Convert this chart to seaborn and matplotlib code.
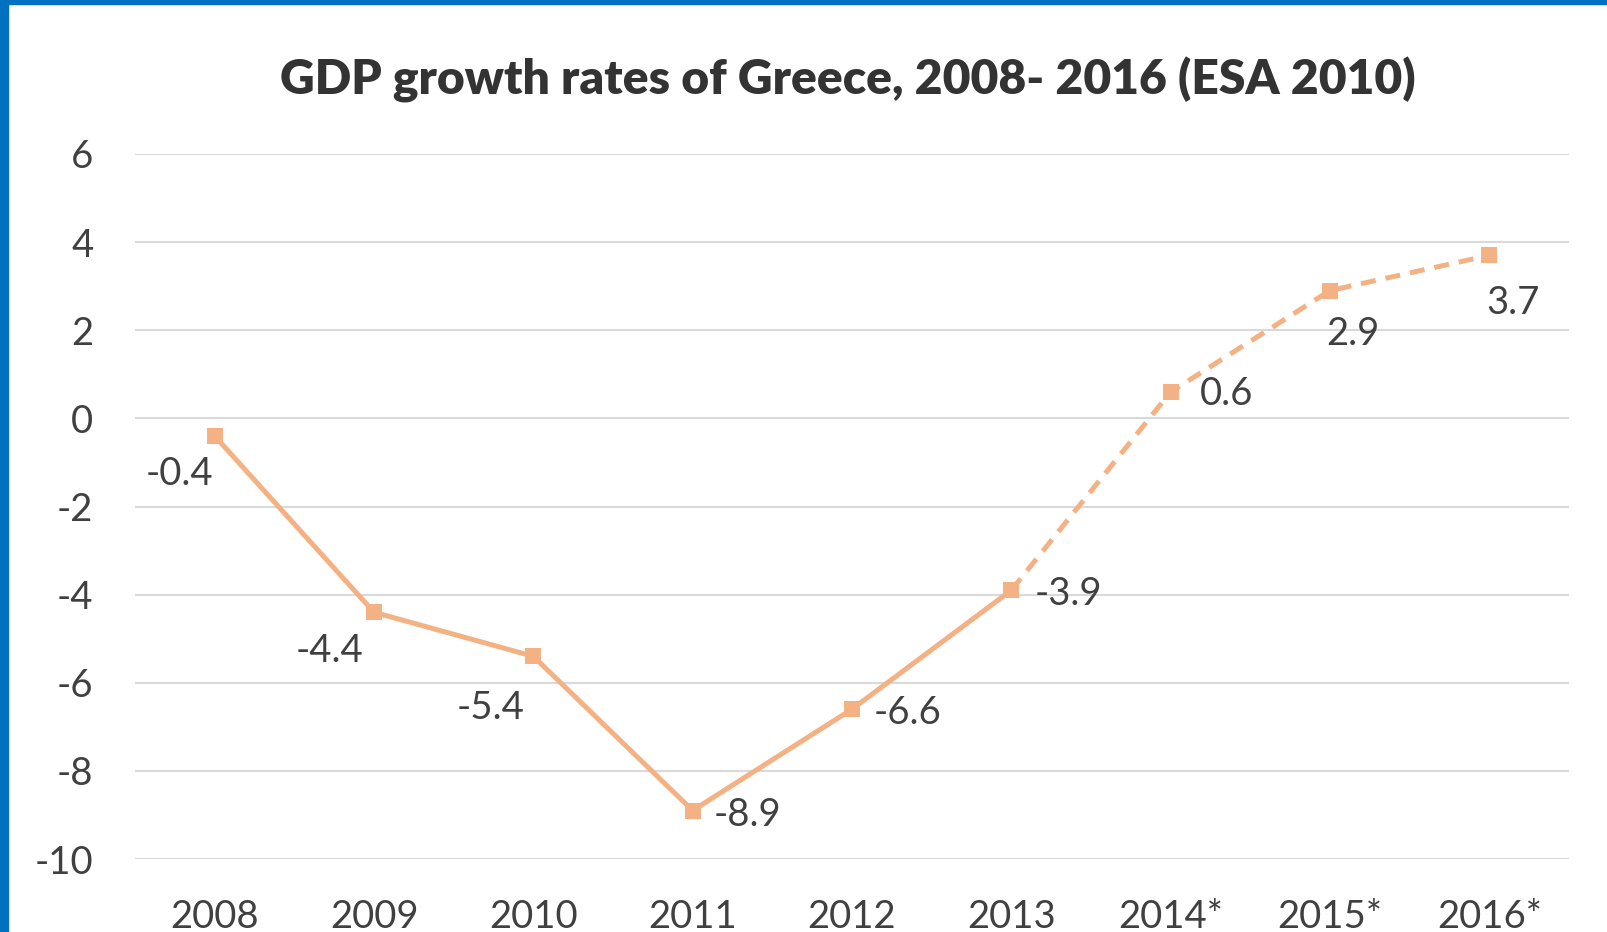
import matplotlib
matplotlib.use("Agg")
import matplotlib.pyplot as plt
import seaborn as sns
import pandas as pd
from matplotlib.patches import Rectangle

years = ["2008", "2009", "2010", "2011", "2012", "2013", "2014*", "2015*", "2016*"]
growth = [-0.4, -4.4, -5.4, -8.9, -6.6, -3.9, 0.6, 2.9, 3.7]
actual_count = 6  # 2008-2013 actual, 2013 onward dashed (estimates)
label_offsets = [(-35, -38), (-45, -39), (-43, -52), (55, -4), (56, -4),
                 (57, -4), (56, -2), (23, -43), (24, -48)]

sns.set_theme(style="white")
plt.rcParams['font.family'] = ['Lato', 'DejaVu Sans']

fig = plt.figure(figsize=(16.07, 9.32), dpi=100)
ax = fig.add_axes([135/1607, 1-859/932, (1569-135)/1607, (859-154)/932])

df = pd.DataFrame({"x": range(len(years)), "y": growth})
solid = df.iloc[:actual_count]
dashed = df.iloc[actual_count-1:]
color = "#F4B183"
sns.lineplot(data=dashed, x="x", y="y", ax=ax, color=color, lw=3.6,
             dashes=False, linestyle=(0, (3, 2)), marker="s", markersize=11,
             markeredgewidth=0)
sns.lineplot(data=solid, x="x", y="y", ax=ax, color=color, lw=3.6,
             marker="s", markersize=11, markeredgewidth=0)

for i, v in enumerate(growth):
    dx, dy = label_offsets[i]
    ax.annotate(f"{v:.1f}", xy=(i, v), xytext=(dx, dy), textcoords="offset pixels",
                ha="center", va="center", fontsize=27.5, color="#404040")

ax.set_xlim(-0.5, len(years)-0.5)
ax.set_ylim(-10, 6)
ax.set_yticks(range(-10, 7, 2))
ax.set_yticklabels([str(t) for t in range(-10, 7, 2)])
ax.set_xticks(range(len(years)))
ax.set_xticklabels(years)
ax.tick_params(axis="both", length=0, labelsize=27.5, labelcolor="#404040")
ax.tick_params(axis="y", pad=30)
ax.tick_params(axis="x", pad=29)
ax.yaxis.grid(True, color="#D9D9D9", lw=1.5)
ax.set_axisbelow(True)
for s in ax.spines.values():
    s.set_visible(False)
ax.set_xlabel("")
ax.set_ylabel("")

fig.text((135+1569)/2/1607 - 4/1607, 1-80/932, "GDP growth rates of Greece, 2008- 2016 (ESA 2010)",
         ha="center", va="center", fontsize=34.6, fontweight="heavy", color="#333333")

# blue frame (left and top)
fig.patches.append(Rectangle((0, 0), 8/1607, 1, transform=fig.transFigure,
                             color="#0070C0", zorder=10))
fig.patches.append(Rectangle((0, 1-4/932), 1, 4/932, transform=fig.transFigure,
                             color="#0070C0", zorder=10))

fig.savefig("out.png", dpi=100)
